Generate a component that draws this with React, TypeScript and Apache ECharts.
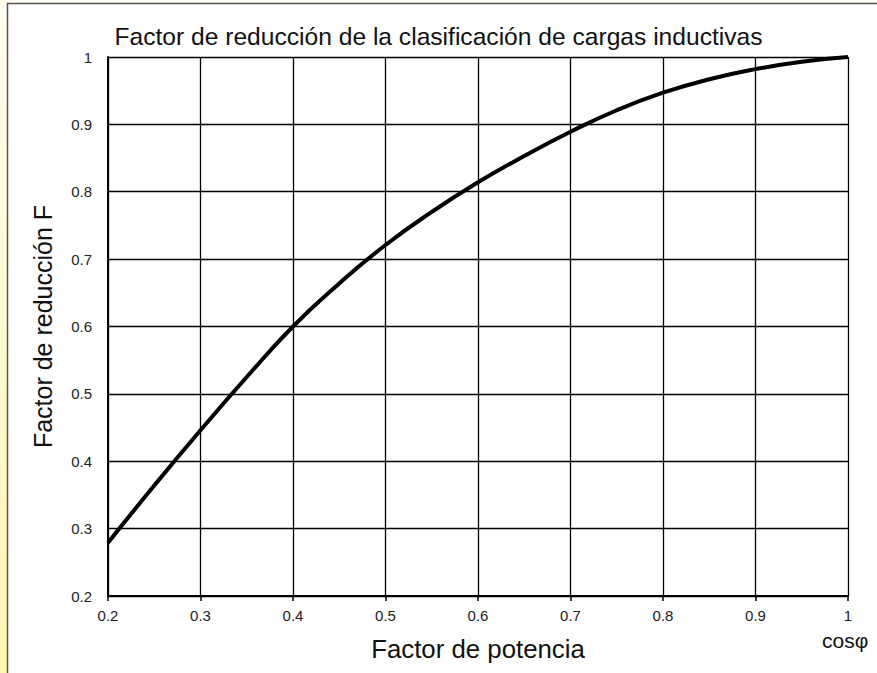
import React, { useEffect, useRef } from "react";
import * as echarts from "echarts";

const titleText = "Factor de reducción de la clasificación de cargas inductivas";
const xAxisName = "Factor de potencia";
const yAxisName = "Factor de reducción F";
const xUnitLabel = "cosφ";

const powerFactor = [0.2, 0.25, 0.3, 0.35, 0.4, 0.45, 0.5, 0.55, 0.6, 0.65, 0.7, 0.75, 0.8, 0.85, 0.9, 0.95, 1.0];
const reductionFactor = [0.279, 0.364, 0.446, 0.525, 0.6, 0.664, 0.721, 0.77, 0.814, 0.853, 0.889, 0.921, 0.947, 0.967, 0.982, 0.993, 1.0];

export default function App() {
  const ref = useRef<HTMLDivElement>(null);
  useEffect(() => {
    document.body.style.margin = "0";
    const chart = echarts.init(ref.current!, null, { renderer: "svg" });
    const font = "'Liberation Sans', Arial, sans-serif";
    chart.setOption({
      animation: false,
      backgroundColor: "#ffffff",
      textStyle: { fontFamily: font },
      graphic: [
        {
          type: "rect",
          z: -10,
          shape: { x: 0, y: 0, width: 877, height: 673 },
          style: {
            fill: new echarts.graphic.LinearGradient(0, 0, 0, 1, [
              { offset: 0, color: "#fffdf0" },
              { offset: 1, color: "#fff7b0" },
            ]),
          },
          silent: true,
        },
        {
          type: "rect",
          z: -9,
          shape: { x: 7.5, y: 3.5, width: 880, height: 680 },
          style: { fill: "#ffffff", stroke: "#555555", lineWidth: 1.5 },
          silent: true,
        },
        {
          type: "text",
          left: 822,
          top: 630,
          style: { text: xUnitLabel, fontSize: 21, fill: "#111111", fontFamily: font },
        },
      ],
      title: {
        text: titleText,
        left: "center",
        top: 19,
        textStyle: { fontSize: 24.6, fontWeight: "normal", color: "#111111", fontFamily: font },
      },
      grid: { left: 108, right: 29, top: 57, bottom: 77 },
      xAxis: {
        type: "value",
        min: 0.2,
        max: 1,
        interval: 0.1,
        name: xAxisName,
        nameLocation: "middle",
        nameGap: 40,
        nameTextStyle: { fontSize: 25.8, color: "#111111", fontFamily: font },
        axisLine: { lineStyle: { color: "#000000", width: 2 } },
        axisTick: { show: true, length: 5, lineStyle: { color: "#000000", width: 1.5 } },
        axisLabel: { fontSize: 15, color: "#222222", margin: 12, fontFamily: font },
        splitLine: { show: true, lineStyle: { color: "#000000", width: 1.3 } },
      },
      yAxis: {
        type: "value",
        min: 0.2,
        max: 1,
        interval: 0.1,
        name: yAxisName,
        nameLocation: "middle",
        nameGap: 53,
        nameTextStyle: { fontSize: 25, color: "#111111", fontFamily: font },
        axisLine: { show: true, lineStyle: { color: "#000000", width: 2 } },
        axisTick: { show: false },
        axisLabel: { fontSize: 15, color: "#222222", margin: 16, fontFamily: font },
        splitLine: { show: true, lineStyle: { color: "#000000", width: 1.3 } },
      },
      series: [
        {
          type: "line",
          data: powerFactor.map((x, i) => [x, reductionFactor[i]]),
          smooth: 0.5,
          showSymbol: false,
          lineStyle: { color: "#000000", width: 4 },
        },
      ],
    });
    return () => chart.dispose();
  }, []);
  return <div ref={ref} style={{ width: 877, height: 673 }} />;
}
